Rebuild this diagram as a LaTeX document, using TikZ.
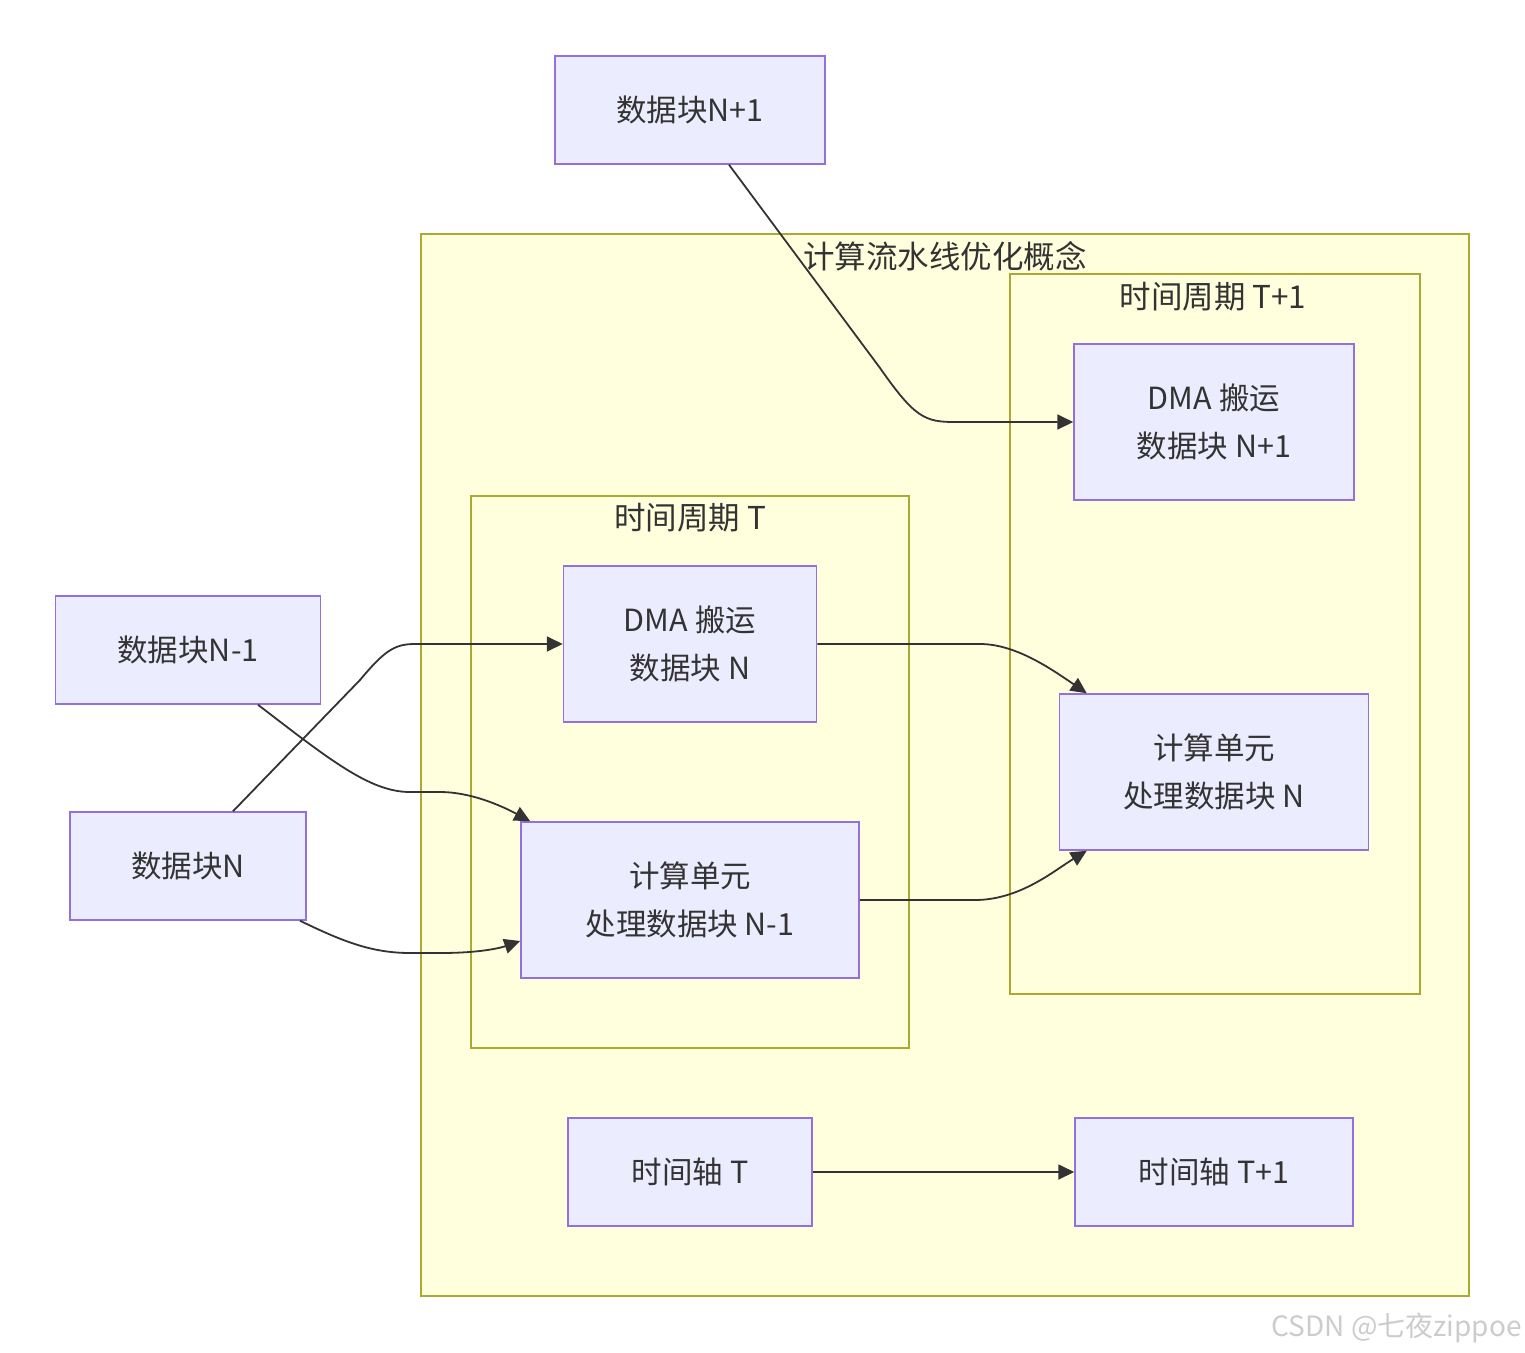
\documentclass[tikz,border=0pt]{standalone}
\usepackage{fontspec}
\setmainfont{Noto Sans CJK SC}
\usetikzlibrary{arrows.meta,calc}
\definecolor{nfill}{HTML}{ECECFF}
\definecolor{nline}{HTML}{9370DB}
\definecolor{cfill}{HTML}{FFFFDE}
\definecolor{cline}{HTML}{AAAA33}
\definecolor{ink}{HTML}{333333}
\begin{document}
\begin{tikzpicture}[x=1pt,y=-1pt,
 box/.style={draw=nline,fill=nfill,line width=1.5pt,text=ink,font=\fontsize{30.5}{48}\selectfont,align=center,inner sep=0pt},
 clus/.style={draw=cline,fill=cfill,line width=1.5pt,inner sep=0pt},
 ctitle/.style={text=ink,font=\fontsize{31.5}{34}\selectfont,anchor=center,inner sep=0pt},
 link/.style={draw=ink,line width=1.8pt,-{Triangle[length=16pt,width=15pt]}}]
\useasboundingbox (0,0) rectangle (1525,1352);
% clusters
\node[clus,minimum width=1048pt,minimum height=1062pt] (outer) at (945,765) {};
\node[clus,minimum width=410pt,minimum height=720pt] (ctb) at (1215,634) {};
\node[clus,minimum width=438pt,minimum height=552pt] (cta) at (690,772) {};
\node[ctitle] (touter) at (945,256) {计算流水线优化概念};
\node[ctitle] (ttb) at (1213,297) {时间周期 T+1};
\node[ctitle] (tta) at (690,518) {时间周期 T};
% nodes
\node[box,minimum width=270pt,minimum height=108pt] (nb1) at (690,110) {数据块N+1};
\node[box,minimum width=280pt,minimum height=156pt] (dma1) at (1214,422) {DMA 搬运\\数据块 N+1};
\node[box,minimum width=253pt,minimum height=156pt] (dman) at (690,644) {DMA 搬运\\数据块 N};
\node[box,minimum width=309pt,minimum height=156pt] (cn) at (1214,772) {计算单元\\处理数据块 N};
\node[box,minimum width=338pt,minimum height=156pt] (cn1) at (690,900) {计算单元\\处理数据块 N-1};
\node[box,minimum width=265pt,minimum height=108pt] (dnm1) at (188,650) {数据块N-1};
\node[box,minimum width=236pt,minimum height=108pt] (dn) at (188,866) {数据块N};
\node[box,minimum width=244pt,minimum height=108pt] (ta) at (690,1172) {时间轴 T};
\node[box,minimum width=278pt,minimum height=108pt] (tb) at (1214,1172) {时间轴 T+1};
% edges
\draw[link] ([xshift=39pt]nb1.south) -- (880,368) .. controls (915,418) and (925,422) .. (955,422) -- (dma1.west);
\draw[link] ([xshift=45pt]dn.north) -- (360,680) .. controls (385,650) and (395,644) .. (415,644) -- (dman.west);
\draw[link] ([xshift=70pt]dnm1.south) .. controls (330,760) and (370,792) .. (410,792) -- (440,792) .. controls (470,792) and (500,805) .. ([xshift=10pt]cn1.north west);
\draw[link] ([xshift=112pt]dn.south) .. controls (340,940) and (370,953) .. (410,953) -- (440,953) .. controls (480,953) and (500,948) .. ([yshift=-41pt]cn1.west);
\draw[link] (dman.east) -- (980,644) .. controls (1015,644) and (1050,668) .. ([xshift=28pt]cn.north west);
\draw[link] (cn1.east) -- (975,900) .. controls (1020,900) and (1055,870) .. ([xshift=28pt]cn.south west);
\draw[link] (ta.east) -- (tb.west);
% watermark
\node[anchor=south east,inner sep=0pt,text=gray!40,font=\fontsize{28}{28}\selectfont] (wm) at (1522,1343) {CSDN @七夜zippoe};
\end{tikzpicture}
\end{document}
